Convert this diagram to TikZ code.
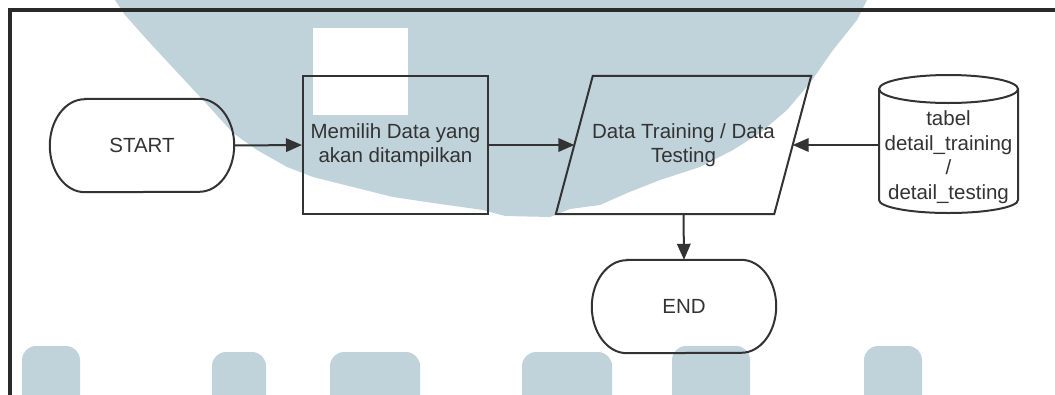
\documentclass[tikz,border=0pt]{standalone}
\usepackage{fontspec}
\setmainfont{Liberation Sans}
\usetikzlibrary{arrows.meta,calc}
\definecolor{ink}{HTML}{333333}
\definecolor{framecol}{HTML}{2A2A2A}
\definecolor{wm}{HTML}{C1D3DA}

% terminal (stadium) outline drawn around a named node
\newcommand\termoutline[1]{%
  \draw[line] ($(#1.north west)+(35pt,0)$) -- ($(#1.north east)+(-35pt,0)$)
    arc[start angle=90, end angle=-90, x radius=35pt, y radius=46.5pt]
    -- ($(#1.south west)+(35pt,0)$)
    arc[start angle=270, end angle=90, x radius=35pt, y radius=46.5pt] -- cycle;}

\begin{document}
\begin{tikzpicture}[x=1pt, y=-1pt,
  line/.style={draw=ink, line width=2pt},
  arr/.style={line, -{Triangle[length=16pt, width=13.5pt]}},
  lbl/.style={text=ink, font=\fontsize{20.5}{23.5}\selectfont, align=center, inner sep=0pt},
  term/.style={lbl, minimum width=184pt, minimum height=93pt},
  procbox/.style={lbl, line, rectangle, minimum width=185pt, minimum height=138pt},
  iobox/.style={lbl, minimum width=218pt, minimum height=138pt},
  dbbox/.style={lbl, minimum width=139pt, minimum height=138pt}]

\useasboundingbox (0,0) rectangle (1055,394);

% background logo
\begin{scope}
  \clip (0,0) rectangle (1055,394);
  \fill[wm] (115,0) -- (125,15) -- (150,43) -- (175,70) -- (203,100) -- (233,133)
    -- (257,150) -- (287,167) -- (313,177) -- (353,187) -- (393,197) -- (433,203)
    -- (483,210) -- (505,216) -- (550,217) -- (570,209) -- (600,205) -- (627,193)
    -- (660,180) -- (700,167) -- (733,150) -- (760,133) -- (787,110) -- (810,83)
    -- (833,50) -- (857,20) -- (867,0) -- cycle;
  \fill[white] (313,28) rectangle (408,115);
  \foreach \a/\b/\t in {22/80/346, 212/266/352, 330/420/352, 522/612/352, 672/750/346, 864/922/346}
    \fill[wm, rounded corners=14pt] (\a,\t) rectangle (\b,420);
\end{scope}

% frame
\draw[framecol, line width=4.5pt] (1070,10) -- (10,10) -- (10,410);

% nodes
\node[term] (start) at (142,145.5) {START};
\termoutline{start}

\node[procbox] (choose) at (395.5,145) {Memilih Data yang\\akan ditampilkan};

\node[iobox] (data) at (683.5,145) {Data Training / Data\\Testing};
\draw[line] ($(data.north west)+(18.5pt,0)$) -- ($(data.north east)+(18.5pt,0)$)
  -- ($(data.south east)+(-18.5pt,0)$) -- ($(data.south west)+(-18.5pt,0)$) -- cycle;

\node[dbbox] (tbl) at (948.5,145) {};
\draw[line] (879,89) -- (879,200) arc[start angle=180, end angle=360, x radius=69.5pt, y radius=13pt]
  -- (1018,89);
\draw[line] (948.5,89) ellipse [x radius=69.5pt, y radius=14pt];
\node[lbl, font=\fontsize{20.5}{24.5}\selectfont] (tbltxt) at (948.5,157)
  {tabel\\detail\_training\\/\\detail\_testing};

\node[term] (end) at (684,306.5) {END};
\termoutline{end}

% connectors
\draw[arr] (start.east) -- (choose.west);
\draw[arr] (choose.east) -- (data.west);
\draw[arr] (tbl.west) -- (data.east);
\draw[arr] (data.south) -- (end.north);
\end{tikzpicture}
\end{document}
